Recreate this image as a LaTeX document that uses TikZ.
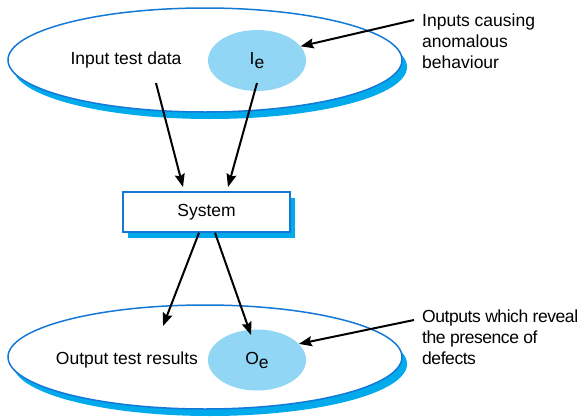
\documentclass[tikz,border=0pt]{standalone}
\usepackage{fontspec}
\setmainfont{Liberation Sans}
\newfontfamily\tightsans[LetterSpace=-2.5]{Liberation Sans}
\usepackage{tikz}
\usetikzlibrary{arrows.meta,shapes.geometric,shadows}

\definecolor{rimblue}{RGB}{20,120,215}
\definecolor{shadeblue}{RGB}{0,170,235}
\definecolor{setblue}{RGB}{145,215,245}

\begin{document}
\begin{tikzpicture}[x=1pt, y=-1pt,
		font=\fontsize{17.5}{21}\selectfont,
		dataset/.style={ellipse, draw=rimblue, line width=1.5pt, fill=white,
			minimum width=394pt, minimum height=104pt,
			drop shadow={shadow xshift=5pt, shadow yshift=-7pt, fill=shadeblue, opacity=1}},
		subset/.style={ellipse, fill=setblue, minimum width=98pt, minimum height=61pt, inner sep=0pt},
		sysbox/.style={rectangle, draw=rimblue, line width=1.5pt, fill=white,
			minimum width=167pt, minimum height=40pt,
			drop shadow={shadow xshift=5pt, shadow yshift=-6pt, fill=shadeblue, opacity=1}},
		flow/.style={line width=2pt, -{Stealth[length=13pt, width=10pt, inset=2pt]}},
		note/.style={align=left, anchor=north west, inner sep=0pt}]

	\useasboundingbox (0,0) rectangle (582,418);

	% input side
	\node [dataset] (inset) at (205,60) {};
	\node [subset] (ie) at (257,60.5) {I\raisebox{-4pt}{e}};
	\node (indata) at (126,60) {Input test data};

	% output side
	\node [dataset] (outset) at (205,357) {};
	\node [subset] (oe) at (257,360) {O\raisebox{-4pt}{e}};
	\node (outdata) at (127,360) {Output test results};

	% the system under test
	\node [sysbox] (sys) at (206.5,212) {System};

	% side notes
	\node [note] (innote) at (422,14) {Inputs causing\\anomalous\\behaviour};
	\node [note, font=\tightsans\fontsize{17.5}{21}\selectfont] (outnote) at (422,310)
		{Outputs which reveal\\the presence of\\defects};

	\coordinate (datafoot) at (156,83);
	\coordinate (iefoot) at (257,83);
	\coordinate (sysin1) at (183,187);
	\coordinate (sysin2) at (228,187);
	\coordinate (resin) at (163,326);
	\coordinate (oein) at (251,335);
	\coordinate (innotetail) at (414,20);
	\coordinate (outnotetail) at (414,320);

	\draw [flow] (datafoot) -- (sysin1);
	\draw [flow] (iefoot) -- (sysin2);
	\draw [flow] ([xshift=-7.5pt]sys.south) -- (resin);
	\draw [flow] ([xshift=8.5pt]sys.south) -- (oein);

	\draw [flow] (innotetail) -- (ie.18);
	\draw [flow] (outnotetail) -- (oe.21);

\end{tikzpicture}
\end{document}
